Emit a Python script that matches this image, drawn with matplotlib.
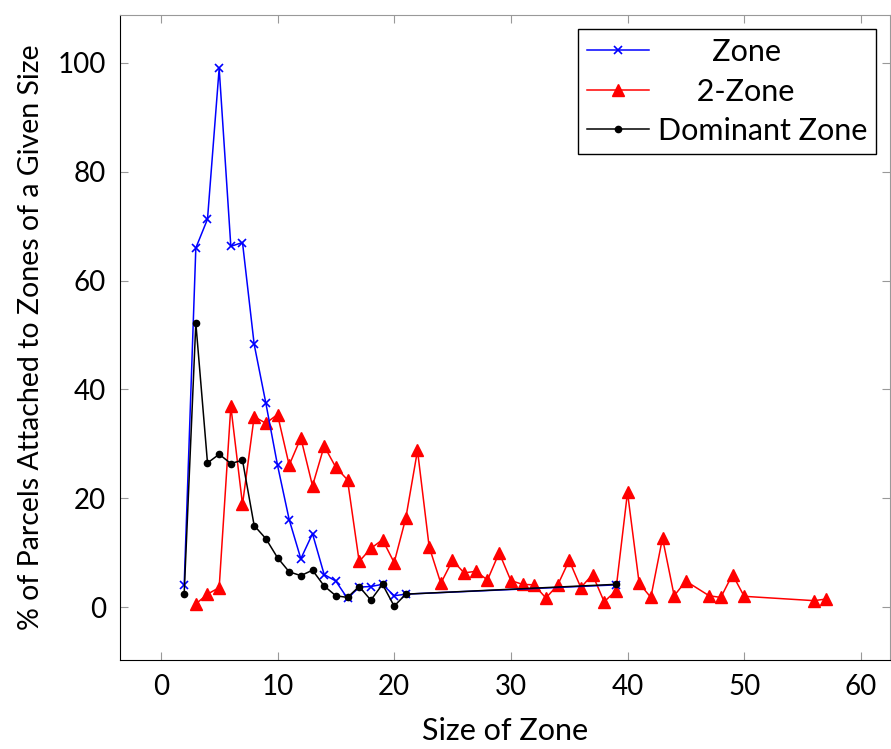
import matplotlib
matplotlib.use('Agg')
import matplotlib.pyplot as plt

plt.rcParams['font.family'] = ['Lato', 'DejaVu Sans']

# Zone
zone_x = [2, 3, 4, 5, 6, 7, 8, 9, 10, 11, 12, 13, 14, 15, 16, 17, 18, 19, 20, 21, 39]
zone_y = [4.0, 66.0, 71.3, 99.0, 66.3, 67.0, 48.3, 37.5, 26.1, 16.1, 8.9, 13.5, 6.0, 4.8,
          1.6, 3.7, 3.8, 4.2, 2.1, 2.4, 4.1]

# 2-Zone
two_x = [3, 4, 5, 6, 7, 8, 9, 10, 11, 12, 13, 14, 15, 16, 17, 18, 19, 20, 21, 22, 23, 24,
         25, 26, 27, 28, 29, 30, 31, 32, 33, 34, 35, 36, 37, 38, 39, 40, 41, 42, 43, 44,
         45, 47, 48, 49, 50, 56, 57]
two_y = [0.6, 2.4, 3.6, 36.9, 18.9, 35.0, 33.8, 35.4, 26.1, 31.1, 22.3, 29.6, 25.7, 23.4,
         8.4, 10.8, 12.4, 8.2, 16.4, 28.8, 11.1, 4.4, 8.6, 6.3, 6.6, 5.0, 10.0, 4.9, 4.2,
         4.1, 1.7, 4.0, 8.6, 3.6, 6.0, 1.0, 3.0, 21.1, 4.4, 1.8, 12.7, 2.1, 4.8, 2.1, 1.8,
         6.0, 2.0, 1.2, 1.5]

# Dominant Zone
dom_x = [2, 3, 4, 5, 6, 7, 8, 9, 10, 11, 12, 13, 14, 15, 16, 17, 18, 19, 20, 21, 39]
dom_y = [2.5, 52.2, 26.5, 28.1, 26.4, 27.0, 15.0, 12.6, 9.1, 6.5, 5.8, 6.8, 3.9, 2.1,
         1.8, 3.8, 1.3, 4.2, 0.2, 2.4, 4.2]

fig = plt.figure(figsize=(8.91, 7.49), dpi=100)
ax = fig.add_axes([120 / 891, 1 - 660 / 749, 770 / 891, 645 / 749])

ax.plot(zone_x, zone_y, color='blue', marker='x', markersize=6, markeredgewidth=1.2,
        linewidth=1.1, label='       Zone', zorder=3)
ax.plot(two_x, two_y, color='red', marker='^', markersize=8, linewidth=1.1,
        label='     2-Zone', zorder=2)
ax.plot(dom_x, dom_y, color='black', marker='o', markersize=4.5, linewidth=1.1,
        label='Dominant Zone', zorder=4)

ax.set_xlim(-3.5, 62.5)
ax.set_ylim(-9.7, 108.8)
ax.set_xticks([0, 10, 20, 30, 40, 50, 60])
ax.set_yticks([0, 20, 40, 60, 80, 100])
ax.tick_params(direction='in', length=6, color='#999999', labelsize=20,
               top=True, right=True, pad=10)
for s in ['top', 'right']:
    ax.spines[s].set_color('#999999')
ax.set_xlabel('Size of Zone', fontsize=22, labelpad=12)
ax.set_ylabel('% of Parcels Attached to Zones of a Given Size', fontsize=20.5, labelpad=10)

leg = ax.legend(loc='upper right', fontsize=22, fancybox=False, edgecolor='black',
                framealpha=1, handlelength=2.0, borderpad=0.3, labelspacing=0.38,
                handletextpad=0.3, borderaxespad=0.45)
leg.get_frame().set_linewidth(1.0)

fig.savefig('out.png', dpi=100)
